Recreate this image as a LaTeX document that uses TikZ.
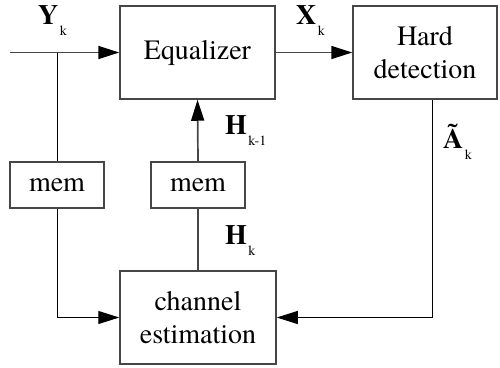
\documentclass[tikz,border=0pt]{standalone}
\usepackage{fontspec}
\setmainfont{texgyretermes}[Extension=.otf,UprightFont=*-regular,BoldFont=*-bold]
\usetikzlibrary{arrows.meta}
\newcommand{\sig}[2]{{\fontsize{28}{28}\selectfont\bfseries #1}\hspace{1.5pt}\raisebox{-11pt}{\fontsize{14}{14}\selectfont #2}}
\begin{document}
\begin{tikzpicture}[x=1pt,y=-1pt,
  blk/.style={draw=gray!55!black,line width=1.5pt,fill=white,inner sep=0pt,
    align=center,font=\fontsize{28}{33}\selectfont},
  tip/.style={-{Triangle[length=21pt,width=13pt,black]}},
  gline/.style={draw=gray!55!black,line width=1.7pt},
  kline/.style={draw=black,line width=1pt},
  lab/.style={anchor=base west,inner sep=0pt}]
\useasboundingbox (0,0) rectangle (500,367);

% blocks
\node[blk,minimum width=155pt,minimum height=93pt] (eq) at (197.5,52.5) {Equalizer};
\node[blk,minimum width=144pt,minimum height=93pt] (hd) at (425,52.5) {Hard\\detection};
\node[blk,minimum width=94pt,minimum height=46pt] (m1) at (57,185) {mem};
\node[blk,minimum width=94pt,minimum height=46pt] (m2) at (198,185) {mem};
\node[blk,minimum width=156pt,minimum height=93pt] (ce) at (198,317.5) {channel\\estimation};

% signal ends
\coordinate (in) at (10,52.5);
\coordinate (br) at (57,52.5);

% connectors
\draw[gline,tip] (in) -- (eq.west);
\draw[kline] (br) -- (m1.north);
\draw[kline,tip] (m1.south) |- (ce.west);
\draw[gline,tip] (eq.east) -- (hd.west);
\draw[gline,tip] (m2.north) -- (eq.south);
\draw[gline] (ce.north) -- (m2.south);
\draw[kline,tip] ([xshift=7pt]hd.south) |- (ce.east);

% signal labels
\node[lab] (ly) at (38,24) {\sig{Y}{k}};
\node[lab] (lx) at (296,24) {\sig{X}{k}};
\node[lab] (lh1) at (225,134) {\sig{H}{k-1}};
\node[lab] (lh) at (225,244) {\sig{H}{k}};
\node[lab] (la) at (443,148) {\sig{\~{A}}{k}};
\end{tikzpicture}
\end{document}
